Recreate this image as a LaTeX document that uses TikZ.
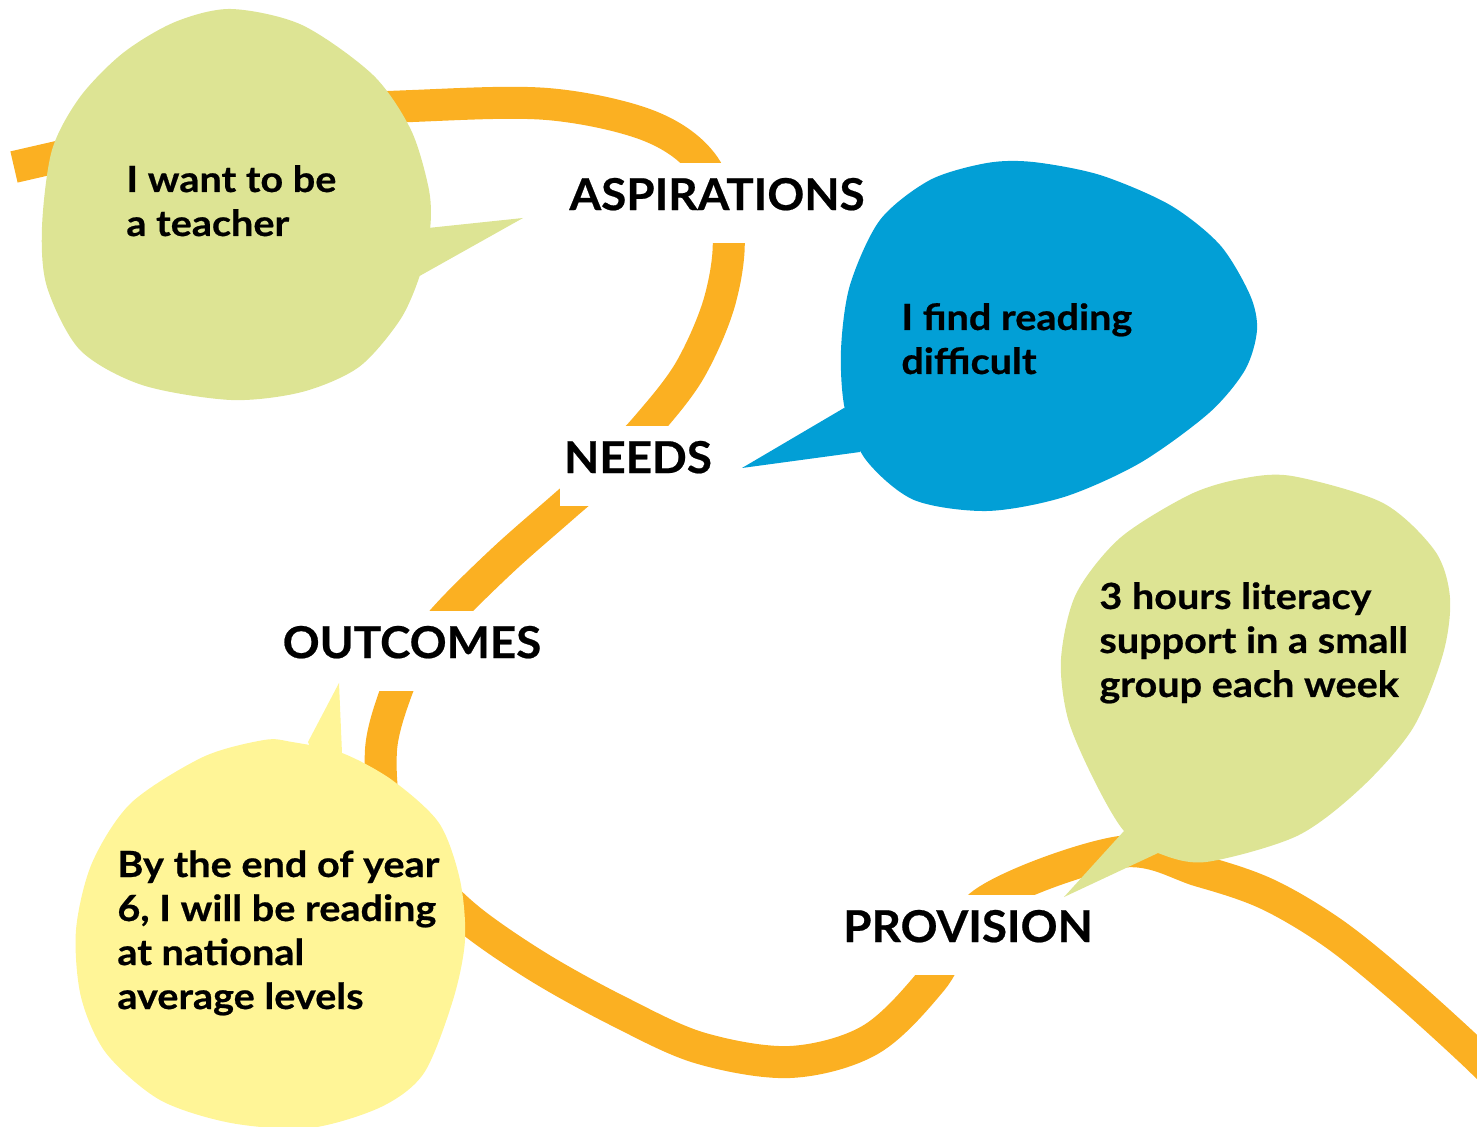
\documentclass[tikz,border=0pt]{standalone}
\usepackage{fontspec}
\setmainfont{Lato}
\newfontfamily\bubblefont{Lato}[FakeStretch=1.1,FakeBold=0.6]
\newfontfamily\stagefont{Lato}[FakeStretch=1.04,FakeBold=0.5]
\usepackage{tikz}
\definecolor{ribbon}{RGB}{251,176,34}
\definecolor{leaf}{RGB}{221,228,148}
\definecolor{sky}{RGB}{2,159,214}
\definecolor{butter}{RGB}{255,245,151}

\begin{document}
\begin{tikzpicture}[x=0.5pt,y=-0.5pt,
  stage/.style={fill=white,inner xsep=2pt,inner ysep=0pt,minimum height=40pt,text depth=9pt,font=\stagefont\fontsize{22}{26}\selectfont\bfseries},
  voice/.style={anchor=base west,align=left,inner sep=0pt,font=\bubblefont\fontsize{18}{22}\selectfont\bfseries}]
\useasboundingbox (0,0) rectangle (1477,1127);
\draw [ribbon,line width=16pt] plot [smooth,tension=0.55] coordinates {(14,167) (120,143) (250,116) (413,106) (547,104) (647,125) (702,163) (728,230) (720,300) (690,370) (648,425) (605,470) (563,507) (505,558) (450,612) (415,655) (396,692) (381,750) (388,820) (425,875) (470,920) (540,968) (620,1012) (700,1048) (790,1062) (870,1040) (932,980) (985,902) (1120,852) (1200,871) (1267,894) (1333,933) (1400,987) (1473,1053) (1520,1100)};
\node [stage] (aspirations) at (717,203) {ASPIRATIONS};
\node [stage] (needs) at (638,466) {NEEDS};
\node [stage] (outcomes) at (412,651) {OUTCOMES};
\node [stage] (provision) at (968,935) {PROVISION};
\fill [leaf] plot [smooth cycle] coordinates {(231,9) (302,25) (373,75) (411,130) (429,190) (430,230) (420,275) (400,320) (359,367) (302,392) (231,400) (142,385) (80,350) (47,287) (42,227) (52,150) (80,97) (123,53) (175,22)};
\fill [leaf] (428,228) -- (523,218) -- (416,278) -- (380,250) -- cycle;
\node [voice] (teacher) at (126,236) {I want to be\\a teacher};
\fill [sky] plot [smooth cycle] coordinates {(1033,162) (1100,175) (1170,205) (1220,245) (1250,295) (1257,330) (1245,370) (1209,413) (1140,463) (1064,497) (987,511) (914,500) (866,460) (845,410) (841,350) (850,285) (880,220) (930,180) (987,163)};
\fill [sky] (844,408) -- (742,468) -- (860,452) -- (870,420) -- cycle;
\node [voice] (reading) at (901,374) {I find reading\\difficult};
\fill [leaf] plot [smooth cycle] coordinates {(1292,476) (1383,503) (1435,551) (1450,598) (1443,654) (1413,728) (1361,788) (1297,836) (1206,862) (1158,853) (1124,831) (1094,780) (1068,719) (1061,659) (1076,594) (1120,538) (1189,495) (1240,479)};
\fill [leaf] (1124,831) -- (1064,897) -- (1158,853) -- (1150,820) -- cycle;
\node [voice] (support) at (1099,697) {3 hours literacy\\support in a small\\group each week};
\fill [butter] plot [smooth cycle] coordinates {(264,740) (203,757) (131,803) (92,863) (76,930) (81,997) (106,1053) (160,1100) (231,1123) (310,1128) (381,1107) (424,1073) (453,1000) (465,940) (460,880) (439,823) (392,780) (342,753) (292,742)};
\fill [butter] (308,742) -- (339,683) -- (342,753) -- (320,770) -- cycle;
\node [voice] (target) at (117,1009) {By the end of year\\6, I will be reading\\at national\\average levels};
\end{tikzpicture}
\end{document}
